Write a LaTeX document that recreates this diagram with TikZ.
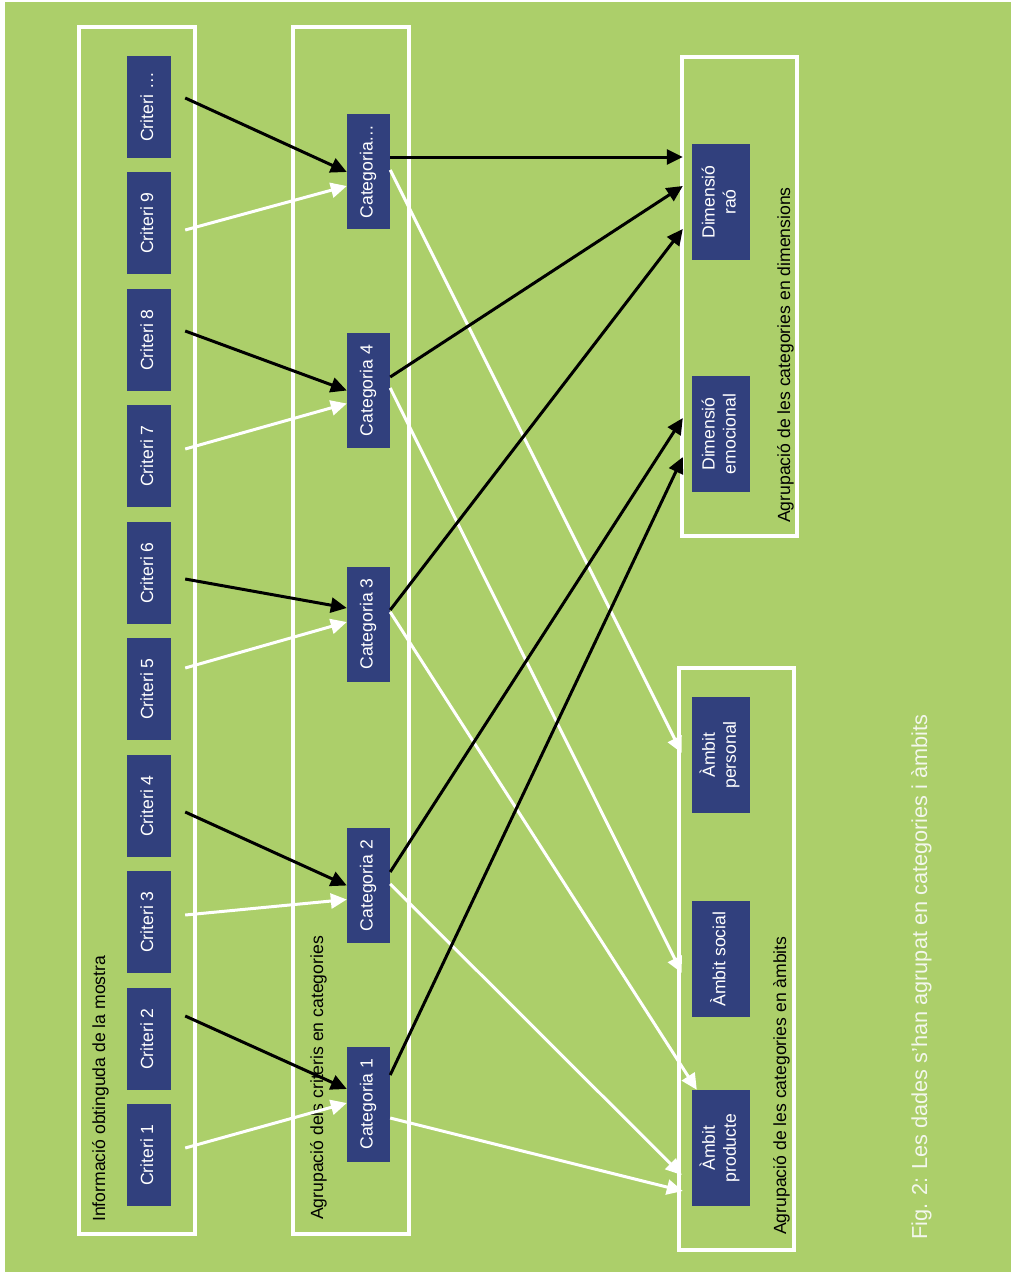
\documentclass[tikz,border=0pt]{standalone}
\usepackage{fontspec}
\setmainfont{Liberation Sans}
\usetikzlibrary{arrows.meta,calc}

\definecolor{bggreen}{RGB}{172,207,106}
\definecolor{boxblue}{RGB}{49,64,125}
\definecolor{captionfg}{RGB}{243,247,236}

\newcommand{\nodefont}{\fontsize{17.6}{21}\selectfont}
\newcommand{\vtext}[1]{\rotatebox{90}{\begin{tabular}{@{}c@{}}#1\end{tabular}}}

\tikzset{
  item/.style={fill=boxblue, text=white, inner sep=0pt, font=\nodefont},
  crit/.style={item, minimum width=44pt, minimum height=102pt},
  cat/.style={item, minimum width=43pt, minimum height=115pt},
  dim/.style={item, minimum width=58pt, minimum height=116pt},
  group/.style={draw=white, line width=4pt},
  grouplabel/.style={rotate=90, anchor=base west, inner sep=0pt, font=\nodefont, text=black},
  conn/.style={line width=3pt, -{Triangle[length=16pt,width=15pt]}},
  blk/.style={conn, draw=black, fill=black},
  wht/.style={conn, draw=white, fill=white},
}

\begin{document}
\begin{tikzpicture}[x=1pt,y=-1pt]
  \useasboundingbox (0,0) rectangle (1011,1272);
  \fill[white] (0,0) rectangle (1011,1272);
  \fill[bggreen] (5,2) rectangle (1011,1272);

  % group frames
  \draw[group] (79,27) rectangle (195,1234);
  \draw[group] (293,27) rectangle (409,1234);
  \draw[group] (682,57) rectangle (797,536);
  \draw[group] (678.5,668) rectangle (793.5,1250);

  % group titles
  \node[grouplabel] (tA) at (105,1222) {Informació obtinguda de la mostra};
  \node[grouplabel] (tB) at (323,1220) {Agrupació dels criteris en categories};
  \node[grouplabel] (tC) at (790,523) {Agrupació de les categories en dimensions};
  \node[grouplabel] (tD) at (786,1235) {Agrupació de les categories en àmbits};

  % criteria
  \node[crit] (c10) at (149,107)  {\vtext{Criteri …}};
  \node[crit] (c9)  at (149,223)  {\vtext{Criteri 9}};
  \node[crit] (c8)  at (149,340)  {\vtext{Criteri 8}};
  \node[crit] (c7)  at (149,456)  {\vtext{Criteri 7}};
  \node[crit] (c6)  at (149,573)  {\vtext{Criteri 6}};
  \node[crit] (c5)  at (149,689)  {\vtext{Criteri 5}};
  \node[crit] (c4)  at (149,806)  {\vtext{Criteri 4}};
  \node[crit] (c3)  at (149,922)  {\vtext{Criteri 3}};
  \node[crit] (c2)  at (149,1039) {\vtext{Criteri 2}};
  \node[crit] (c1)  at (149,1155) {\vtext{Criteri 1}};

  % categories
  \node[cat] (k5) at (368.5,171.5) {\vtext{Categoria…}};
  \node[cat] (k4) at (368.5,390.5) {\vtext{Categoria 4}};
  \node[cat] (k3) at (368.5,624)   {\vtext{Categoria 3}};
  \node[cat] (k2) at (368.5,885.5) {\vtext{Categoria 2}};
  \node[cat] (k1) at (368.5,1104)  {\vtext{Categoria 1}};

  % dimensions
  \node[dim] (d1) at (721,202) {\vtext{Dimensió\\raó}};
  \node[dim] (d2) at (721,434) {\vtext{Dimensió\\emocional}};

  % scopes
  \node[dim] (a1) at (721,755)  {\vtext{Àmbit\\personal}};
  \node[dim] (a2) at (721,959)  {\vtext{Àmbit social}};
  \node[dim] (a3) at (721,1148) {\vtext{Àmbit\\producte}};

  % caption
  \node[rotate=90, anchor=base west, inner sep=0pt, text=captionfg,
        font=\fontsize{21.7}{26}\selectfont] (cap) at (927,1240)
        {Fig. 2: Les dades s’han agrupat en categories i àmbits};

  % criteria -> categories
  \draw[wht] ($(c9.east)+(14,7)$)   -- ($(k5.west)+(0,14.5)$);
  \draw[wht] ($(c7.east)+(14,-7)$)  -- ($(k4.west)+(0,13)$);
  \draw[wht] ($(c5.east)+(14,-21)$) -- ($(k3.west)+(0,-2)$);
  \draw[wht] ($(c3.east)+(14,-7)$)  -- ($(k2.west)+(0,14)$);
  \draw[wht] ($(c1.east)+(14,-7)$)  -- ($(k1.west)+(0,-1)$);
  \draw[blk] ($(c10.east)+(14,-9)$) -- ($(k5.west)+(0,0.5)$);
  \draw[blk] ($(c8.east)+(14,-9)$)  -- ($(k4.west)+(0,0)$);
  \draw[blk] ($(c6.east)+(14,6)$)   -- ($(k3.west)+(0,-16)$);
  \draw[blk] ($(c4.east)+(14,6)$)   -- ($(k2.west)+(0,0)$);
  \draw[blk] ($(c2.east)+(14,-23)$) -- ($(k1.west)+(0,-15)$);

  % categories -> scopes
  \draw[wht] ($(k5.east)+(0,-1.5)$) -- ($(a1.west)+(-10,-2)$);
  \draw[wht] ($(k4.east)+(0,-2.5)$) -- ($(a2.west)+(-10,14)$);
  \draw[wht] ($(k3.east)+(0,-12)$)  -- ($(a3.north west)+(5,0)$);
  \draw[wht] ($(k2.east)+(0,-1.5)$) -- ($(a3.west)+(-10,27)$);
  \draw[wht] ($(k1.east)+(0,14)$)   -- ($(a3.west)+(-9,43)$);

  % categories -> dimensions
  \draw[blk] ($(k5.east)+(0,-14.5)$) -- ($(d1.west)+(-9,-45)$);
  \draw[blk] ($(k4.east)+(0,-13.5)$) -- ($(d1.west)+(-9,-16)$);
  \draw[blk] ($(k3.east)+(0,-14)$)   -- ($(d1.west)+(-9,27)$);
  \draw[blk] ($(k2.east)+(0,-13.5)$) -- ($(d2.west)+(-9,-16)$);
  \draw[blk] ($(k1.east)+(0,-29)$)   -- ($(d2.west)+(-9,23)$);
\end{tikzpicture}
\end{document}
